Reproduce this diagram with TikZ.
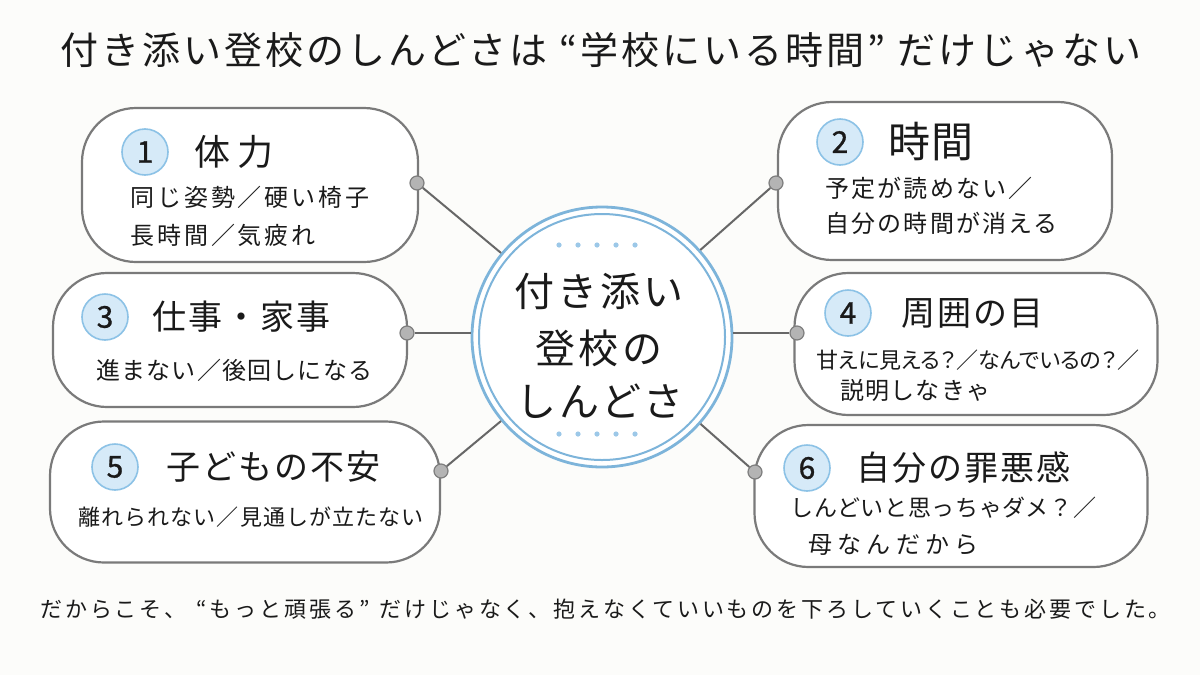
\documentclass[tikz,border=0pt]{standalone}
\usepackage{fontspec}
\setmainfont{Noto Sans CJK JP}
\definecolor{bg}{HTML}{FCFCFA}
\definecolor{ink}{HTML}{1A1A1A}
\definecolor{boxgray}{HTML}{7A7A7A}
\definecolor{linegray}{HTML}{676767}
\definecolor{knobfill}{HTML}{B4B4B4}
\definecolor{knobdraw}{HTML}{7E7E7E}
\definecolor{cblue}{HTML}{7DB4DA}
\definecolor{dotblue}{HTML}{9CC8E8}
\definecolor{numfill}{HTML}{D6EAF8}
\definecolor{numdraw}{HTML}{8CC2E6}
\begin{document}
\begin{tikzpicture}[x=0.5pt,y=-0.5pt,
  box/.style={draw=boxgray, line width=1.1pt, fill=white, rounded corners=27pt, inner sep=0pt},
  conn/.style={draw=linegray, line width=1pt},
  knob/.style={circle, draw=knobdraw, fill=knobfill, line width=0.6pt, minimum size=7pt, inner sep=0pt},
  num/.style={circle, draw=numdraw, fill=numfill, line width=0.8pt, minimum size=23pt, inner sep=0pt, text=ink, font=\fontsize{15}{15}\selectfont\addfontfeatures{FakeBold=1}},
  ttl/.style={anchor=west, inner sep=0pt, text=ink, font=\fontsize{17}{17}\selectfont\addfontfeatures{LetterSpace=6}},
  sub/.style={anchor=west, inner sep=0pt, text=ink, font=\fontsize{12}{12}\selectfont\addfontfeatures{LetterSpace=5}},
  ctext/.style={inner sep=0pt, text=ink, font=\fontsize{20}{20}\selectfont\addfontfeatures{LetterSpace=8}},
  cdot/.style={circle, fill=dotblue, minimum size=2.6pt, inner sep=0pt},
]
\fill[bg] (0,0) rectangle (1200,675);
\useasboundingbox (0,0) rectangle (1200,675);

% title
\node[anchor=west, inner sep=0pt, text=ink, font=\fontsize{19}{19}\selectfont\addfontfeatures{LetterSpace=8}] (title) at (60,50) {付き添い登校のしんどさは\hspace{6pt}“学校にいる時間”\hspace{6pt}だけじゃない};

% boxes
\node[box, minimum width=168pt, minimum height=77pt] (b1) at (250,185) {};
\node[box, minimum width=167pt, minimum height=79pt] (b2) at (945,181) {};
\node[box, minimum width=177pt, minimum height=67pt] (b3) at (230,340) {};
\node[box, minimum width=181.5pt, minimum height=71pt] (b4) at (976,344) {};
\node[box, minimum width=195pt, minimum height=70.5pt] (b5) at (245,492) {};
\node[box, minimum width=196.5pt, minimum height=71pt] (b6) at (951,496) {};

% central circle
\node[circle, draw=cblue, line width=1.4pt, fill=white, minimum size=130pt, inner sep=0pt] (c) at (602,337) {};
\node[circle, draw=cblue, line width=1pt, minimum size=123pt, inner sep=0pt] (ci) at (602,337) {};

% knobs
\node[knob] (k1) at (417,183) {};
\node[knob] (k2) at (776,183) {};
\node[knob] (k3) at (407,333) {};
\node[knob] (k4) at (797,333) {};
\node[knob] (k5) at (441,471) {};
\node[knob] (k6) at (755,472) {};

% connectors
\draw[conn] (k1) -- (c);
\draw[conn] (k2) -- (c);
\draw[conn] (k3) -- (k3 -| c.west);
\draw[conn] (k4) -- (k4 -| c.east);
\draw[conn] (k5) -- (c);
\draw[conn] (k6) -- (c);

% central decoration dots
\foreach \i/\xx in {1/559,2/578,3/597,4/616,5/635}{
  \node[cdot] (td\i) at (\xx,245) {};
  \node[cdot] (bd\i) at (\xx,434) {};
}
\node[ctext] (cl1) at (599,291) {付き添い};
\node[ctext] (cl2) at (599,348) {登校の};
\node[ctext] (cl3) at (600,401) {しんどさ};

% box 1
\node[num] (n1) at (145,152) {1};
\node[ttl, font=\fontsize{18}{18}\selectfont\addfontfeatures{LetterSpace=20}] (t1) at (194,152) {体力};
\node[sub, font=\fontsize{12}{12}\selectfont\addfontfeatures{LetterSpace=12}] (s1a) at (130,197) {同じ姿勢／硬い椅子};
\node[sub, font=\fontsize{12}{12}\selectfont\addfontfeatures{LetterSpace=12}] (s1b) at (130,235) {長時間／気疲れ};

% box 2
\node[num] (n2) at (840,142) {2};
\node[ttl, font=\fontsize{21}{21}\selectfont\addfontfeatures{LetterSpace=3}] (t2) at (888,142) {時間};
\node[sub, font=\fontsize{12}{12}\selectfont\addfontfeatures{LetterSpace=9}] (s2a) at (825,188) {予定が読めない／};
\node[sub, font=\fontsize{12}{12}\selectfont\addfontfeatures{LetterSpace=9}] (s2b) at (825,223) {自分の時間が消える};

% box 3
\node[num] (n3) at (105,317) {3};
\node[ttl] (t3) at (152,317) {仕事・家事};
\node[sub] (s3a) at (96,370) {進まない／後回しになる};

% box 4
\node[num] (n4) at (848,313) {4};
\node[ttl] (t4) at (901,313) {周囲の目};
\node[sub, font=\fontsize{11}{11}\selectfont\addfontfeatures{RawFeature=+palt}] (s4a) at (816,360) {甘えに見える？／なんでいるの？／};
\node[sub] (s4b) at (840,390) {説明しなきゃ};

% box 5
\node[num] (n5) at (115,467) {5};
\node[ttl] (t5) at (166,467) {子どもの不安};
\node[sub, font=\fontsize{11}{11}\selectfont\addfontfeatures{LetterSpace=5}] (s5a) at (78,517) {離れられない／見通しが立たない};

% box 6
\node[num] (n6) at (807,468) {6};
\node[ttl] (t6) at (856,468) {自分の罪悪感};
\node[sub, font=\fontsize{11.5}{11.5}\selectfont\addfontfeatures{LetterSpace=3}] (s6a) at (790,508) {しんどいと思っちゃダメ？／};
\node[sub, font=\fontsize{12}{12}\selectfont\addfontfeatures{LetterSpace=22}] (s6b) at (808,545) {母なんだから};

% bottom line
\node[anchor=west, inner sep=0pt, text=ink, font=\fontsize{11}{11}\selectfont\addfontfeatures{LetterSpace=13}] (foot) at (40,609) {だからこそ、\hspace{5pt}“もっと頑張る”\hspace{5pt}だけじゃなく、抱えなくていいものを下ろしていくことも必要でした。};
\end{tikzpicture}
\end{document}
